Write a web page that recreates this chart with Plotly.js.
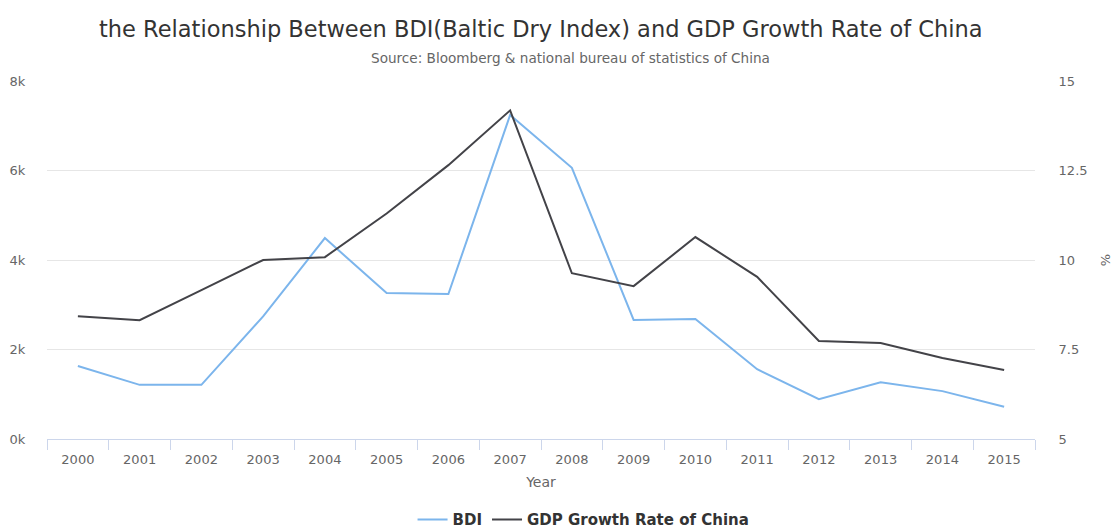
<!DOCTYPE html>
<html>
<head>
<meta charset="utf-8">
<script src="https://cdn.plot.ly/plotly-3.0.1.min.js"></script>
<style>
html,body{margin:0;padding:0;background:#fff;}
#chart{width:1115px;height:531px;}
</style>
</head>
<body>
<div id="chart"></div>
<script>
const years = ["2000","2001","2002","2003","2004","2005","2006","2007","2008","2009","2010","2011","2012","2013","2014","2015"];
const bdi = [1630, 1210, 1210, 2740, 4490, 3260, 3240, 7240, 6060, 2660, 2680, 1560, 890, 1270, 1070, 720];
const gdp = [8.43, 8.32, 9.16, 10.0, 10.08, 11.3, 12.65, 14.18, 9.63, 9.27, 10.64, 9.53, 7.74, 7.68, 7.26, 6.93];
const leftTickVals = [0, 2000, 4000, 6000, 8000];
const leftTickText = ["0k", "2k", "4k", "6k", "8k"];
const rightTickVals = [5, 7.5, 10, 12.5, 15];
const rightTickText = ["5", "7.5", "10", "12.5", "15"];

const FONT = "DejaVu Sans, sans-serif";

const traces = [
  {
    x: years, y: bdi, name: "BDI", type: "scatter", mode: "lines",
    line: {color: "#7cb5ec", width: 2}, yaxis: "y"
  },
  {
    x: years, y: gdp, name: "GDP Growth Rate of China", type: "scatter", mode: "lines",
    line: {color: "#434348", width: 2}, yaxis: "y2"
  }
];

const layout = {
  width: 1115, height: 531,
  margin: {l: 47, r: 80, t: 81, b: 92, autoexpand: false},
  paper_bgcolor: "#fff", plot_bgcolor: "#fff",
  font: {family: FONT, color: "#666", size: 12},
  title: {
    text: "the Relationship Between BDI(Baltic Dry Index) and GDP Growth Rate of China",
    font: {family: FONT, size: 22.5, color: "#333"},
    x: 0.485, xanchor: "center", y: 0.945, yanchor: "middle"
  },
  annotations: [
    {
      text: "Source: Bloomberg & national bureau of statistics of China",
      xref: "paper", yref: "paper", x: 0.53, y: 1.0, yshift: 23,
      xanchor: "center", yanchor: "middle", showarrow: false,
      font: {family: FONT, size: 13.6, color: "#666"}
    }
  ],
  xaxis: {
    type: "category",
    range: [-0.5, 15.5],
    showgrid: false,
    showline: true, linecolor: "#ccd6eb", linewidth: 1,
    ticks: "outside", tickson: "boundaries", ticklen: 10, tickcolor: "#ccd6eb",
    ticklabelstandoff: 8,
    tickfont: {family: FONT, size: 13, color: "#666"},
    title: {text: "Year", font: {family: FONT, size: 14, color: "#666"}, standoff: 11},
    zeroline: false, fixedrange: true
  },
  yaxis: {
    range: [0, 8000],
    tickvals: leftTickVals, ticktext: leftTickText,
    showgrid: true, gridcolor: "#e6e6e6", gridwidth: 1,
    zeroline: false, showline: false,
    ticks: "outside", ticklen: 18, tickcolor: "rgba(0,0,0,0)",
    tickfont: {family: FONT, size: 13, color: "#666"},
    fixedrange: true
  },
  yaxis2: {
    range: [5, 15], overlaying: "y", side: "right",
    tickvals: rightTickVals, ticktext: rightTickText,
    showgrid: false, zeroline: false, showline: false,
    ticks: "outside", ticklen: 20, tickcolor: "rgba(0,0,0,0)",
    tickfont: {family: FONT, size: 13, color: "#666"},
    title: {text: "%", font: {family: FONT, size: 13, color: "#666"}, standoff: 14},
    fixedrange: true
  },
  showlegend: true,
  legend: {
    orientation: "h", xref: "container", yref: "container",
    x: 0.370, xanchor: "left", y: 0.021, yanchor: "middle",
    font: {family: FONT, size: 15, color: "#333", weight: "bold"},
    itemwidth: 30, tracegroupgap: 0, bgcolor: "rgba(0,0,0,0)"
  }
};

Plotly.newPlot("chart", traces, layout, {displayModeBar: false, staticPlot: true});
</script>
</body>
</html>
